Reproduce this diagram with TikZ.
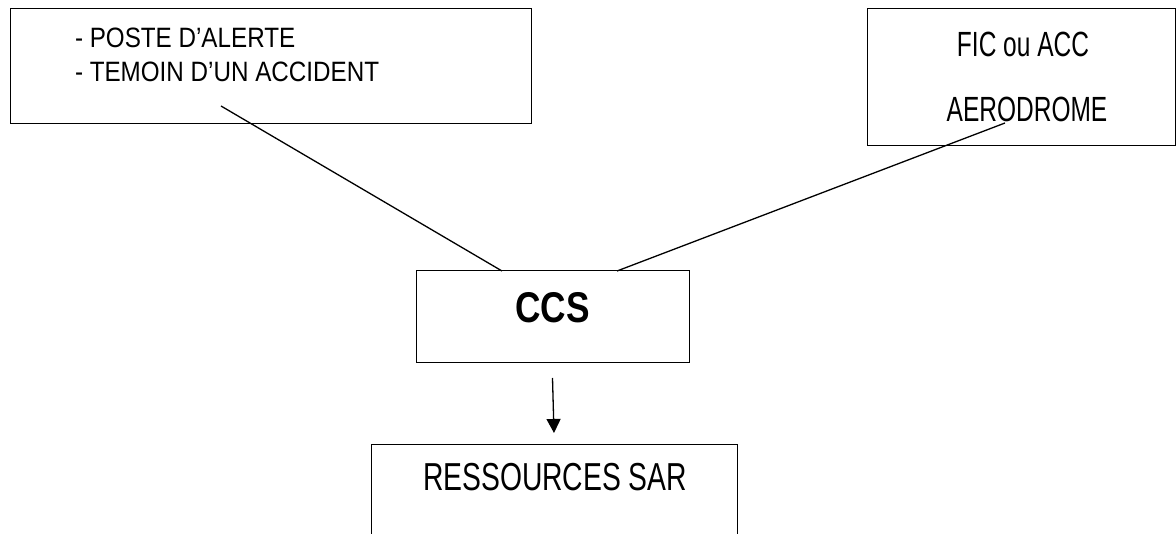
\documentclass[tikz,border=0pt]{standalone}
\usepackage{fontspec}
\setmainfont{Liberation Sans}
\usepackage{graphicx}
\usetikzlibrary{arrows.meta}
\tikzset{
  box/.style={draw, line width=1pt, rectangle, inner sep=0pt, outer sep=0pt},
  conn/.style={line width=1.3pt},
  lbl/.style={inner sep=0pt, outer sep=0pt},
}
\begin{document}
\begin{tikzpicture}[x=1pt,y=-1pt]
\path[use as bounding box] (0,0) rectangle (1176,534);
\clip (0,0) rectangle (1176,534);
% boxes
\node[box, minimum width=521pt, minimum height=115pt] (src) at (270.5,66.5) {};
\node[box, minimum width=308pt, minimum height=137pt] (fic) at (1021,77.5) {};
\node[box, minimum width=273pt, minimum height=92pt] (ccs) at (552.5,317) {};
\node[box, minimum width=366pt, minimum height=130pt] (res) at (554,510) {};
% texts
\node[lbl, anchor=base west] (t1) at (75,48) {\fontsize{28pt}{34pt}\selectfont\scalebox{0.865}[1]{- POSTE D’ALERTE}};
\node[lbl, anchor=base west] (t2) at (75,82) {\fontsize{28pt}{34pt}\selectfont\scalebox{0.865}[1]{- TEMOIN D’UN ACCIDENT}};
\node[lbl, anchor=base] (t3) at (1023,57) {\fontsize{35pt}{40pt}\selectfont\scalebox{0.70}[1]{FIC ou ACC}};
\node[lbl, anchor=base] (t4) at (1027,122) {\fontsize{35pt}{40pt}\selectfont\scalebox{0.70}[1]{AERODROME}};
\node[lbl, anchor=base] (t5) at (552.5,323) {\fontsize{43pt}{48pt}\selectfont\bfseries\scalebox{0.82}[1]{CCS}};
\node[lbl, anchor=base] (t6) at (555,490) {\fontsize{39pt}{44pt}\selectfont\scalebox{0.725}[1]{RESSOURCES SAR}};
% connector ends
\coordinate (a1) at (221,106);
\coordinate (a2) at (1005,123);
\coordinate (c1) at (502,271);
\coordinate (c2) at (617,271);
\draw[conn] (a1) -- (c1);
\draw[conn] (a2) -- (c2);
\draw[conn, -{Triangle[length=14pt,width=14pt]}] ([yshift=-15pt]ccs.south) -- ([yshift=12pt]res.north);
\end{tikzpicture}
\end{document}
